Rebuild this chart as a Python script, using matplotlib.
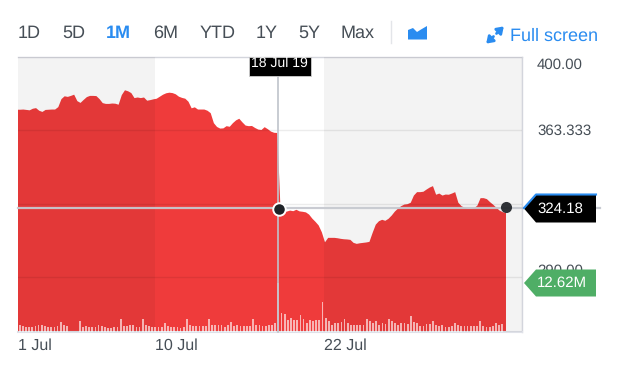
"""Stock quote widget: one month area chart with volume bars and hover tags."""
import matplotlib

matplotlib.use("Agg")
import matplotlib.pyplot as plt
import numpy as np
from matplotlib.patches import Polygon, Rectangle

plt.rcParams["font.family"] = ["Liberation Sans", "DejaVu Sans"]
plt.rcParams["text.hinting"] = "no_hinting"
plt.rcParams["text.hinting_factor"] = 1

W, H = 623, 369
INK = "#464e56"
BLUE = "#2a8cf0"
RED = "#ef3b3b"
GREEN = "#4fae66"
EDGE = "#d3d5dc"

RANGES = ["1D", "5D", "1M", "6M", "YTD", "1Y", "5Y", "Max"]
RANGE_X = [18, 62, 106, 153, 200, 256, 298, 341]

# half hourly close, starts one step left of the plot so the area fills the edge
price = [
    373.7, 373.7, 373.8, 373.6, 373.4, 374.2, 374.5, 373.2, 372.6, 373.6, 373.7,
    373.8, 373.8, 375.0, 379.0, 380.4, 380.1, 380.6, 381.2, 378.0, 377.1,
    378.6, 380.0, 380.6, 380.6, 380.5, 379.0, 377.0, 376.6, 376.6, 376.8,
    376.7, 376.2, 381.0, 383.4, 382.9, 382.0, 379.5, 379.8, 379.5, 379.8,
    378.2, 378.5, 378.9, 379.2, 380.2, 381.2, 381.9, 382.2, 382.0, 381.4,
    380.2, 379.6, 379.2, 377.7, 374.4, 374.9, 373.8, 373.8, 373.8, 373.2,
    372.0, 367.0, 365.1, 364.3, 364.4, 365.5, 365.2, 367.0, 368.4, 369.2,
    367.4, 365.8, 365.5, 365.6, 364.6, 363.8, 363.6, 365.0, 364.0, 362.8,
    362.2, 362.1, 323.5, 323.0, 322.9, 323.4, 323.1, 323.8, 323.0, 322.8,
    322.5, 321.4, 319.4, 317.8, 316.0, 312.6, 307.6, 309.8, 309.8, 309.8,
    309.6, 309.3, 309.1, 309.0, 308.8, 307.3, 306.8, 307.1, 307.3, 307.5,
    307.8, 312.3, 316.4, 318.1, 318.8, 318.3, 319.3, 320.9, 322.9, 324.4,
    325.6, 326.4, 326.6, 327.3, 330.9, 332.6, 332.6, 332.8, 333.9, 334.9,
    335.6, 331.3, 331.9, 330.9, 331.4, 331.3, 331.9, 332.6, 327.3, 325.6,
    324.8, 324.3, 324.3, 324.6, 325.9, 329.6, 329.6, 329.1, 327.6, 326.3,
    324.8, 323.4, 322.6, 322.3,
]

# volume in millions, one bar per half hour
volume = [
    1.7, 1.5, 1.3, 1.2, 1.2, 1.55, 1.9, 1.7, 1.55, 1.2, 1.2, 1.2, 1.55, 2.5, 1.7, 1.55,
    0, 0, 0,
    2.75, 1.2, 1.5, 1.2, 1.2, 1.3, 1.8, 1.5, 1.2, 1.1, 1.1, 1.2, 1.3, 3.35, 1.55, 1.5,
    1.9, 1.7, 1.4, 1.4, 3.25, 1.9, 1.5, 1.2, 1.4, 1.3, 1.4, 2.4, 1.55, 1.4, 1.3, 1.3, 1.1,
    1.3, 3.25, 1.9, 1.6, 1.55, 1.55, 1.55, 1.55, 3.25, 1.7, 1.7, 1.9, 1.9, 1.4, 1.8, 2.65,
    1.55, 1.7, 1.55, 1.6, 1.5, 1.55, 3.25, 1.7, 1.7, 1.55, 1.6, 1.7, 1.7, 2.3,
    12.62,
    5.0, 4.65, 3.2, 3.7, 3.2, 3.2, 4.45, 3.45, 2.4, 3.1, 2.9, 3.0, 3.0, 7.7, 3.6, 2.9,
    1.9, 2.4, 2.4, 2.6,
    3.25, 2.2, 1.9, 1.7, 1.9, 1.9, 1.9, 3.25, 2.75, 2.3, 2.85, 1.7, 2.2, 2.0, 3.45, 2.85,
    2.2, 1.8, 2.2, 2.2, 2.15, 4.05, 2.6, 2.3, 1.6, 1.6, 2.05, 2.05, 2.9, 1.7, 1.55, 1.9,
    1.3, 1.2, 1.5, 2.4, 1.8, 1.6, 1.6, 1.6, 1.6, 1.6, 1.6, 2.75, 1.55, 1.2, 1.2, 1.55,
    2.2, 1.7, 2.0,
]

grid_values = [363.333, 326.667, 290.0]
date_labels = ["1 Jul", "10 Jul", "22 Jul"]
date_pos = [-0.535, 42.6, 95.8]

fig = plt.figure(figsize=(W / 100, H / 100), dpi=100, facecolor="white")
ax = fig.add_axes([18 / W, 1 - 332 / H, 504 / W, 275.5 / H])
ax.set_xlim(-0.535, 158.2)
ax.set_ylim(262.6, 400)

x = np.arange(len(price)) - 1
ax.fill_between(x, price, 262.6, color=RED, linewidth=0, zorder=2)

# the shaded sessions are a translucent layer, so they darken the red too
ax.axvspan(date_pos[0], date_pos[1], color="black", alpha=0.047, lw=0, zorder=3)
ax.axvspan(date_pos[2], 158.2, color="black", alpha=0.047, lw=0, zorder=3)
for g in grid_values:
    ax.axhline(g, color="black", alpha=0.075, lw=1, zorder=3)

ax.spines["left"].set_visible(False)
for spine in ("top", "right"):
    ax.spines[spine].set_color(EDGE)
    ax.spines[spine].set_linewidth(1)
ax.spines["bottom"].set_color("#dfe1e8")
ax.spines["bottom"].set_linewidth(1.5)
ax.set_xticks([])
ax.set_yticks([])

vol_ax = ax.twinx()
vol_ax.set_ylim(0, 71)
vol_ax.set_yticks([])
for spine in vol_ax.spines.values():
    spine.set_visible(False)
vol_ax.bar(np.arange(len(volume)) * 0.9934, volume, width=0.55, color="white",
           alpha=0.62, linewidth=0, zorder=4)

# everything outside the plot is placed in pixels on a full figure overlay
ui = fig.add_axes([0, 0, 1, 1], facecolor="none")
ui.set_xlim(0, W)
ui.set_ylim(H, 0)
ui.axis("off")

for label, lx in zip(RANGES, RANGE_X):
    active = label == "1M"
    ui.text(lx, 33, label, fontsize=12.7, ha="left", va="center",
            color=BLUE if active else INK, fontweight="bold" if active else "normal")
ui.plot([391, 391], [21, 43], color="#e3e5e9", lw=1)
ui.add_patch(Polygon([(408, 39.5), (408, 30), (413, 28), (417, 32), (421, 29.5),
                      (427, 26), (427, 39.5)], closed=True, fc=BLUE, ec="none"))
for start, end in [((496.5, 33.5), (503.8, 26.4)), ((493.5, 36.5), (486.2, 43.6))]:
    ui.annotate("", xy=end, xytext=start,
                arrowprops=dict(arrowstyle="-|>,head_length=0.38,head_width=0.26",
                                color=BLUE, lw=2, shrinkA=0, shrinkB=0))
ui.text(510, 36, "Full screen", fontsize=13.2, ha="left", va="center", color=BLUE)

ui.text(537, 64.5, "400.00", fontsize=10.8, ha="left", va="center", color=INK)
ui.text(537, 130.5, "363.333", fontsize=10.8, ha="left", va="center", color=INK)
ui.text(537, 271, "290.00", fontsize=10.8, ha="left", va="center", color=INK)

for label, pos in zip(date_labels, date_pos):
    px = 18 + (pos - date_pos[0]) * 3.176
    ui.text(px, 345.5, label, fontsize=11.2, ha="left", va="center", color=INK)

# crosshair
ui.plot([278, 278], [75, 332], color="#bfc3cb", lw=1.2, zorder=3)
ui.plot([18, 600], [208, 208], color="#c6c9d0", lw=1.6, alpha=0.95, zorder=3)
ui.plot([505.5], [207], "o", ms=8, mfc="#24282d", mec="none", alpha=0.95, zorder=5)
ui.plot([278.5], [208.5], "o", ms=9, mfc="#1f2328", mec="white", mew=1.4, zorder=5)

# hover tags
ui.add_patch(Rectangle((248.5, 57), 62, 18.5, fc="black", ec="#d0d0d0", lw=0.6, zorder=6))
ui.text(279.5, 63.5, "18 Jul 19", fontsize=9.8, ha="center", va="center",
        color="white", zorder=7)

ui.add_patch(Polygon([(524, 208.5), (536, 195), (596, 195), (596, 222.5), (536, 222.5)],
                     closed=True, fc="black", ec="none", zorder=6))
ui.plot([524, 536, 596], [208, 194.5, 194.5], color=BLUE, lw=1.5, zorder=6)
ui.text(537, 209, "324.18", fontsize=10.8, ha="left", va="center", color="white", zorder=7)

ui.add_patch(Polygon([(524, 283), (536, 269.5), (596, 269.5), (596, 296.5), (536, 296.5)],
                     closed=True, fc=GREEN, ec="none", zorder=6))
ui.text(537, 283, "12.62M", fontsize=10.8, ha="left", va="center", color="white", zorder=7)

fig.savefig("out.png", dpi=100)
